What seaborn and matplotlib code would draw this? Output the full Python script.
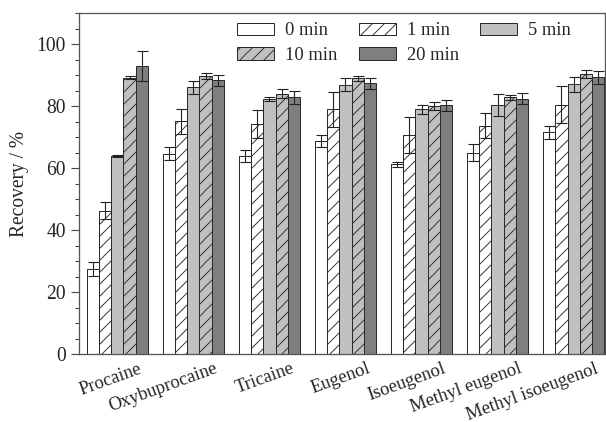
import matplotlib
matplotlib.use("Agg")
import numpy as np
import pandas as pd
import matplotlib.pyplot as plt
import matplotlib.transforms as mtransforms
from matplotlib.patches import Patch
from matplotlib.ticker import MultipleLocator
import seaborn as sns

# ── DATA ─────────────────────────────────────────────────
compounds = ['Procaine', 'Oxybuprocaine', 'Tricaine', 'Eugenol',
             'Isoeugenol', 'Methyl eugenol', 'Methyl isoeugenol']
times = ['0 min', '1 min', '5 min', '10 min', '20 min']

rec_0  = [27.5, 64.7, 63.9, 68.7, 61.2, 65.0, 71.6]
rec_1  = [46.3, 75.1, 74.1, 78.9, 70.8, 73.7, 80.5]
rec_5  = [63.9, 86.0, 82.2, 86.9, 79.0, 80.3, 87.0]
rec_10 = [89.2, 89.6, 84.0, 88.9, 80.0, 82.9, 90.3]
rec_20 = [93.0, 88.3, 82.9, 87.3, 80.2, 82.4, 89.3]

err_0  = [2.2, 2.0, 2.0, 1.9, 0.8, 2.7, 2.1]
err_1  = [2.7, 4.1, 4.5, 5.5, 5.8, 4.0, 6.1]
err_5  = [0.3, 2.0, 0.6, 2.0, 1.4, 3.5, 2.3]
err_10 = [0.4, 1.0, 1.5, 0.7, 1.2, 0.8, 1.2]
err_20 = [4.9, 1.7, 2.1, 1.7, 1.8, 1.7, 2.1]

recs = [rec_0, rec_1, rec_5, rec_10, rec_20]
errs = [err_0, err_1, err_5, err_10, err_20]

df = pd.DataFrame({
    'compound': np.tile(compounds, len(times)),
    'time': np.repeat(times, len(compounds)),
    'recovery': np.concatenate(recs),
})

# ── STYLE ────────────────────────────────────────────────
sns.set_theme(style='ticks')
plt.rcParams['font.family'] = ['Liberation Serif', 'DejaVu Serif']
plt.rcParams['hatch.linewidth'] = 0.9

fills   = {'0 min': '#ffffff', '1 min': '#ffffff', '5 min': '#c0c0c0',
           '10 min': '#c0c0c0', '20 min': '#7f7f7f'}
hatches = {'0 min': '', '1 min': '//', '5 min': '', '10 min': '//', '20 min': ''}
edge = '#2a2a2a'

# 72 dpi -> 1 pt == 1 px
DPI = 72
fig = plt.figure(figsize=(606 / DPI, 422 / DPI), dpi=DPI)
ax = fig.add_axes([0.130, 0.161, 0.868, 0.808])

sns.barplot(data=df, x='compound', y='recovery', hue='time',
            order=compounds, hue_order=times, palette=fills,
            width=0.8, errorbar=None, edgecolor=edge, linewidth=1.0,
            saturation=1, legend=False, ax=ax)

for t, cont, err in zip(times, ax.containers, errs):
    xs, ys = [], []
    for bar in cont:
        bar.set_hatch(hatches[t])
        xs.append(bar.get_x() + bar.get_width() / 2)
        ys.append(bar.get_height())
    ax.errorbar(xs, ys, yerr=err, fmt='none', ecolor='#222222',
                elinewidth=1.1, capsize=5.5, capthick=1.1, zorder=5)

ax.set_xlim(-0.507, 6.41)
ax.set_ylim(0, 110)
ax.yaxis.set_major_locator(MultipleLocator(20))
ax.yaxis.set_minor_locator(MultipleLocator(5))
ax.tick_params(axis='y', which='major', direction='out', length=8,
               width=1.1, labelsize=19.5, color='#444444', pad=5)
ax.tick_params(axis='y', which='minor', direction='out', length=4,
               width=1.1, color='#444444')
ax.tick_params(axis='x', length=0, labelsize=18.5, pad=6)
for s in ax.spines.values():
    s.set_linewidth(1.3)
    s.set_color('#555555')

ax.set_xlabel('')
ax.set_ylabel('Recovery / %', fontsize=19.5, labelpad=7)

offset = mtransforms.ScaledTranslation(21 / DPI, 0, fig.dpi_scale_trans)
for lab in ax.get_xticklabels():
    lab.set_rotation(20)
    lab.set_ha('right')
    lab.set_rotation_mode('anchor')
    lab.set_va('top')
    lab.set_transform(lab.get_transform() + offset)

# legend filled row-wise: reorder for column-wise layout
order = ['0 min', '10 min', '1 min', '20 min', '5 min']
handles = [Patch(facecolor=fills[t], edgecolor=edge, linewidth=1.0,
                 hatch=hatches[t]) for t in order]
ax.legend(handles, order, ncol=3, frameon=False, fontsize=18.5,
          loc='upper left', bbox_to_anchor=(0.28, 1.005),
          handlelength=2.0, handleheight=0.65, handletextpad=0.6,
          columnspacing=1.15, labelspacing=0.4, borderaxespad=0.2)

fig.savefig('out.png', dpi=DPI)
